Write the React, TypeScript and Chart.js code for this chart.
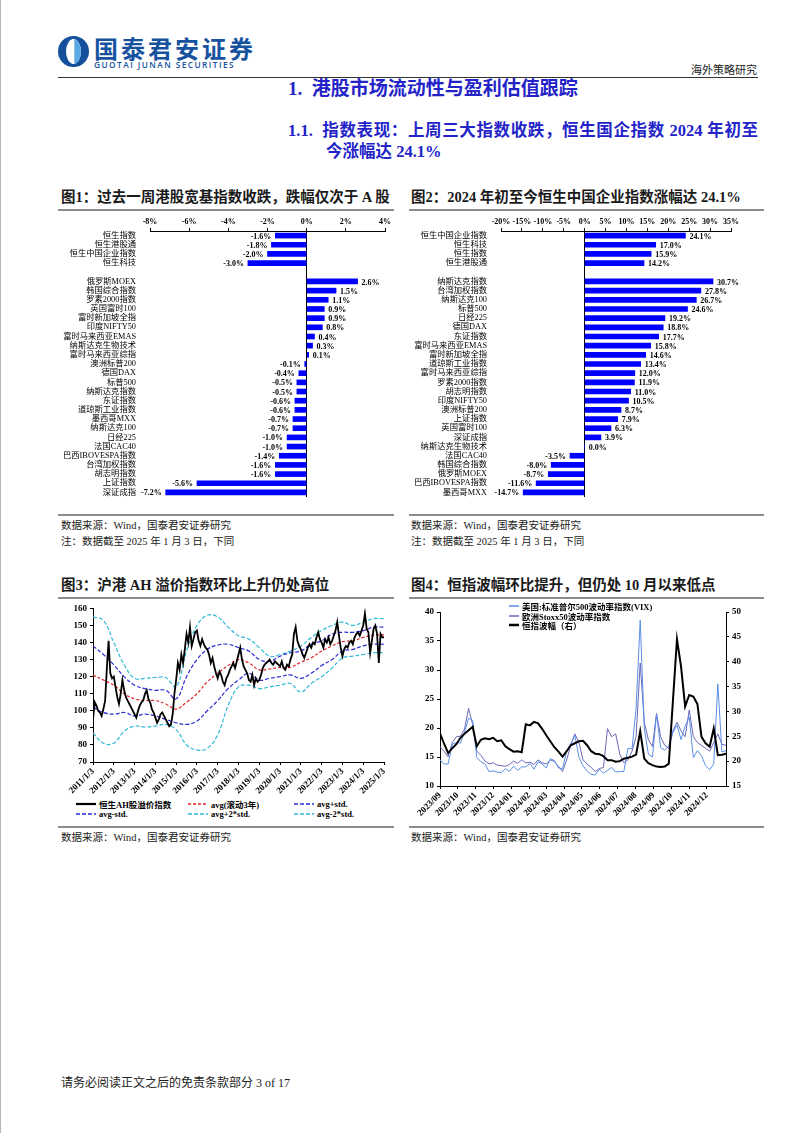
import React, { useEffect, useRef } from 'react';
import { Chart, registerables } from 'chart.js';

Chart.register(...registerables);

const SERIF = '"Liberation Serif", "Noto Sans CJK SC", serif';
const CJK = '"Noto Sans CJK SC", "Liberation Serif", sans-serif';
const HEAD_BLUE = '#2323c8';
const BAR_BLUE = '#0000ff';

// ---------- Figure 1 ----------
const fig1Categories = [
  '恒生指数', '恒生港股通', '恒生中国企业指数', '恒生科技', '',
  '俄罗斯MOEX', '韩国综合指数', '罗素2000指数', '英国富时100', '富时新加坡全指', '印度NIFTY50',
  '富时马来西亚EMAS', '纳斯达克生物技术', '富时马来西亚综指', '澳洲标普200', '德国DAX', '标普500',
  '纳斯达克指数', '东证指数', '道琼斯工业指数', '墨西哥MXX', '纳斯达克100', '日经225', '法国CAC40',
  '巴西IBOVESPA指数', '台湾加权指数', '胡志明指数', '上证指数', '深证成指',
];
const fig1Values = [
  -1.6, -1.8, -2.0, -3.0, null,
  2.6, 1.5, 1.1, 0.9, 0.9, 0.8, 0.4, 0.3, 0.1, -0.1, -0.4, -0.5, -0.5, -0.6, -0.6, -0.7, -0.7,
  -1.0, -1.0, -1.4, -1.6, -1.6, -5.6, -7.2,
];
const fig1TickMin = -8;
const fig1TickMax = 4;
const fig1TickStep = 2;

// ---------- Figure 2 ----------
const fig2Categories = [
  '恒生中国企业指数', '恒生科技', '恒生指数', '恒生港股通', '',
  '纳斯达克指数', '台湾加权指数', '纳斯达克100', '标普500', '日经225', '德国DAX', '东证指数',
  '富时马来西亚EMAS', '富时新加坡全指', '道琼斯工业指数', '富时马来西亚综指', '罗素2000指数',
  '胡志明指数', '印度NIFTY50', '澳洲标普200', '上证指数', '英国富时100', '深证成指',
  '纳斯达克生物技术', '法国CAC40', '韩国综合指数', '俄罗斯MOEX', '巴西IBOVESPA指数', '墨西哥MXX',
];
const fig2Values = [
  24.1, 17.0, 15.9, 14.2, null,
  30.7, 27.8, 26.7, 24.6, 19.2, 18.8, 17.7, 15.8, 14.6, 13.4, 12.0, 11.9, 11.0, 10.5, 8.7, 7.9,
  6.3, 3.9, 0.0, -3.5, -8.0, -8.7, -11.6, -14.7,
];
const fig2TickMin = -20;
const fig2TickMax = 35;
const fig2TickStep = 5;

// ---------- Figure 3 (monthly from 2011/01, bands semi-annual from 2011.0) ----------
const ahStartYear = 2011;
const ahEndYear = 2025;
const ahIndexMonthly = [
  95, 105, 103, 100, 99, 97, 101, 106, 125, 141, 122, 119,
  120, 114, 108, 104, 110, 118, 112, 108, 106, 104, 102, 100,
  98, 96, 100, 103, 105, 106, 110, 112, 107, 105, 101, 99,
  96, 93, 95, 98, 99, 97, 95, 93, 91, 92, 98, 110,
  118, 128, 124, 133, 128, 136, 145, 140, 149, 138, 142, 146,
  147, 141, 138, 142, 139, 137, 136, 133, 128, 131, 126, 122,
  119, 123, 121, 117, 115, 119, 121, 124, 126, 128, 125, 129,
  133, 137, 130, 126, 124, 122, 118, 117, 121, 115, 119, 117,
  118, 121, 125, 127, 128, 129, 130, 128, 127, 129, 128, 127,
  126, 129, 125, 124, 127, 126, 130, 133, 145, 149, 141, 138,
  136, 133, 131, 134, 137, 139, 137, 140, 139, 143, 146, 142,
  140, 137, 142, 140, 143, 139, 141, 144, 147, 152, 144, 137,
  132, 136, 138, 137, 140, 141, 139, 143, 145, 146, 144, 147,
  150, 157, 148, 146, 134, 141, 148, 150, 145, 128, 145, 143,
  143,
];
const ahAvgHalfYear = [121, 118, 115, 110, 107, 106, 106, 104, 101, 105, 110, 117, 122, 126.5, 130, 128, 124, 124.5, 125.5, 125.5, 128.5, 131, 135, 138, 140.5, 141, 143, 144.3, 144.5];
const ahPlusStdHalfYear = [138, 133, 127, 120, 115, 113, 112, 112, 107, 120, 130, 136, 138.5, 139, 137, 135, 130, 129, 132, 134, 135, 139, 141, 145, 146, 146, 147, 149, 149];
const ahMinusStdHalfYear = [102, 99, 98, 99, 97, 98, 97, 95, 93, 92, 94, 100, 106, 113, 118, 122, 118, 119, 120, 121, 119, 122, 126.5, 130, 135, 136, 138, 139, 139];
const ahPlus2StdHalfYear = [155, 153, 140, 127, 119, 119, 119.5, 119.5, 114, 135, 150, 156, 155, 149, 144, 142, 137, 132, 133, 135, 138, 143, 147, 150, 152, 150, 152, 154, 154];
const ahMinus2StdHalfYear = [87, 81, 81, 88, 91, 90.5, 91, 92, 89, 80, 77, 78, 86, 103, 114, 115, 113, 114, 115, 116, 111, 116, 120, 125, 131, 132, 133, 134, 134];

// ---------- Figure 4 (weekly from 2023-09-01) ----------
const volStart = { y: 2023, m: 9, d: 1 };
const volMonthLabels = ['2023/09', '2023/10', '2023/11', '2023/12', '2024/01', '2024/02', '2024/03', '2024/04', '2024/05', '2024/06', '2024/07', '2024/08', '2024/09', '2024/10', '2024/11', '2024/12'];
const vixWeekly = [14.5, 13.8, 13.8, 17.2, 17.5, 17.4, 19.3, 21.7, 21.3, 14.9, 14.2, 13.8, 12.5, 12.6, 12.4, 12.3, 13.0, 12.5, 13.4, 12.7, 13.3, 13.3, 13.9, 12.9, 14.2, 13.8, 13.1, 14.7, 14.4, 13.1, 13.0, 16.0, 17.3, 18.7, 15.0, 13.5, 12.6, 12.0, 11.9, 12.9, 12.2, 12.7, 13.2, 12.4, 12.5, 12.5, 16.5, 16.4, 23.4, 38.6, 20.0, 15.5, 15.0, 22.4, 16.6, 16.2, 16.9, 19.2, 20.5, 18.0, 20.3, 21.9, 14.9, 16.1, 15.2, 13.5, 12.8, 13.8, 27.6, 15.9, 16.1];
const v2xWeekly = [16.8, 16.0, 15.0, 17.5, 18.5, 18.6, 19.8, 23.4, 20.6, 16.0, 15.3, 14.3, 13.8, 14.0, 13.6, 13.5, 13.4, 13.7, 14.3, 13.9, 14.5, 14.0, 14.1, 13.7, 14.5, 14.0, 13.8, 14.5, 14.2, 13.4, 12.5, 14.5, 17.0, 19.0, 17.5, 14.5, 13.8, 13.2, 12.5, 13.0, 13.2, 19.9, 18.5, 19.0, 15.5, 14.0, 14.5, 16.0, 18.5, 31.2, 21.0, 18.0, 16.8, 22.5, 18.5, 17.0, 16.5, 19.5, 21.0, 19.5, 18.5, 23.1, 18.5, 17.5, 17.0, 16.5, 16.0, 17.5, 19.0, 17.2, 17.0];
const hsiVolWeekly = [25.6, 23.5, 21.6, 22.6, 23.4, 24.7, 25.5, 26.2, 26.9, 23.0, 24.3, 24.6, 24.4, 24.7, 24.0, 24.2, 23.0, 22.4, 21.9, 22.0, 21.8, 27.4, 27.2, 27.9, 27.6, 26.5, 25.2, 24.0, 22.8, 21.9, 20.9, 22.0, 23.2, 23.6, 24.0, 24.1, 23.2, 22.0, 21.5, 21.4, 21.0, 20.2, 20.2, 19.9, 20.0, 20.5, 20.7, 20.9, 21.3, 26.0, 20.5, 19.6, 19.2, 18.9, 18.8, 18.9, 19.5, 32.0, 44.5, 39.0, 31.0, 33.3, 33.0, 31.5, 24.9, 23.6, 22.9, 26.6, 21.2, 21.3, 21.5];
const volLeftTicks = [10, 40, 5];
const volRightTicks = [15, 50, 5];

// ---------- helpers ----------
const DAY = 86400000;
const volStartMs = Date.UTC(volStart.y, volStart.m - 1, volStart.d);
const volMonthStarts = volMonthLabels.map((l) => {
  const [y, m] = l.split('/').map(Number);
  return (Date.UTC(y, m - 1, 1) - volStartMs) / DAY;
});
const volEndDay = (Date.UTC(2025, 0, 3) - volStartMs) / DAY;
const weekly = (arr: number[]) => arr.map((v, i) => ({ x: i * 7, y: v }));
const monthly = (arr: number[]) => arr.map((v, i) => ({ x: ahStartYear + i / 12, y: v }));
const halfYear = (arr: number[]) => arr.map((v, i) => ({ x: ahStartYear + i / 2, y: v }));

const barValueLabels = {
  id: 'barValueLabels',
  afterDatasetsDraw(chart: any) {
    const ctx = chart.ctx;
    const meta = chart.getDatasetMeta(0);
    const data = chart.data.datasets[0].data;
    ctx.save();
    ctx.font = `bold 8px ${SERIF}`;
    ctx.fillStyle = '#000';
    ctx.textBaseline = 'middle';
    meta.data.forEach((el: any, i: number) => {
      const v = data[i];
      if (v === null || v === undefined) return;
      const txt = v.toFixed(1) + '%';
      if (v >= 0) {
        ctx.textAlign = 'left';
        ctx.fillText(txt, el.x + 4, el.y + 1);
      } else {
        ctx.textAlign = 'right';
        ctx.fillText(txt, el.x - 4, el.y + 1);
      }
    });
    ctx.restore();
  },
};

function useChart(makeConfig: () => any) {
  const ref = useRef<HTMLCanvasElement>(null);
  useEffect(() => {
    const chart = new Chart(ref.current as HTMLCanvasElement, makeConfig());
    return () => chart.destroy();
  }, []);
  return ref;
}

function barConfig(labels: string[], values: (number | null)[], min: number, max: number, step: number, yWidth: number, padRight: number) {
  return {
    type: 'bar',
    data: {
      labels,
      datasets: [{ data: values, backgroundColor: BAR_BLUE, barThickness: 5 }],
    },
    plugins: [barValueLabels],
    options: {
      indexAxis: 'y',
      responsive: false,
      animation: false,
      layout: { padding: { top: 0, right: padRight, bottom: 3, left: 0 } },
      plugins: { legend: { display: false }, tooltip: { enabled: false } },
      scales: {
        x: {
          position: 'top',
          min,
          max,
          ticks: { stepSize: step, callback: (v: any) => v + '%', font: { family: SERIF, size: 8, weight: 'bold' }, color: '#000', padding: 1, autoSkip: false, maxRotation: 0 },
          grid: {
            color: (c: any) => (c.tick && c.tick.value === 0 ? '#000' : 'rgba(0,0,0,0)'),
            tickColor: '#000',
            tickLength: 3,
            lineWidth: 1,
          },
          border: { color: '#000', width: 1 },
          afterFit: (s: any) => { s.height = 19; },
        },
        y: {
          ticks: { font: { family: SERIF, size: 8.3 }, color: '#000', padding: 6, autoSkip: false },
          grid: { display: false },
          border: { display: false },
          afterFit: (s: any) => { s.width = yWidth; },
        },
      },
    },
  };
}

function Fig1() {
  const ref = useChart(() => barConfig(fig1Categories, fig1Values, fig1TickMin, fig1TickMax, fig1TickStep, 92, 11));
  return <canvas ref={ref} width={338} height={296} style={{ position: 'absolute', left: 57, top: 212 }} />;
}

function Fig2() {
  const ref = useChart(() => barConfig(fig2Categories, fig2Values, fig2TickMin, fig2TickMax, fig2TickStep, 95, 35));
  return <canvas ref={ref} width={360} height={296} style={{ position: 'absolute', left: 405, top: 212 }} />;
}

const AH_RED = '#e02424';
const AH_BLUE = '#2a2ad6';
const AH_CYAN = '#2fbad8';

function Fig3() {
  const ref = useChart(() => {
    const band = (data: any[], color: string, dash: number[]) => ({
      data, borderColor: color, borderWidth: 1.2, borderDash: dash, pointRadius: 0, tension: 0.4, fill: false,
    });
    const tickFont = { family: SERIF, size: 9, weight: 'bold' };
    return {
      type: 'line',
      data: {
        datasets: [
          { data: monthly(ahIndexMonthly), borderColor: '#000', borderWidth: 1.8, pointRadius: 0, tension: 0, fill: false },
          band(halfYear(ahAvgHalfYear), AH_RED, [3, 2]),
          band(halfYear(ahPlusStdHalfYear), AH_BLUE, [4, 2]),
          band(halfYear(ahMinusStdHalfYear), AH_BLUE, [4, 2]),
          band(halfYear(ahPlus2StdHalfYear), AH_CYAN, [4, 2]),
          band(halfYear(ahMinus2StdHalfYear), AH_CYAN, [4, 2]),
        ],
      },
      options: {
        responsive: false,
        animation: false,
        layout: { padding: { top: 7, right: 12, bottom: 0, left: 0 } },
        plugins: { legend: { display: false }, tooltip: { enabled: false } },
        scales: {
          x: {
            type: 'linear', min: ahStartYear, max: ahEndYear,
            ticks: { stepSize: 1, autoSkip: false, callback: (v: any) => `${v}/1/3`, maxRotation: 45, minRotation: 45, font: tickFont, color: '#000', padding: 1 },
            grid: { drawOnChartArea: false, tickLength: 3, color: '#000' },
            border: { color: '#000' },
            afterFit: (s: any) => { s.height = 34; },
          },
          y: {
            min: 70, max: 160,
            ticks: { stepSize: 10, font: tickFont, color: '#000', padding: 3 },
            grid: { drawOnChartArea: false, tickLength: 3, color: '#000' },
            border: { color: '#000' },
            afterFit: (s: any) => { s.width = 35; },
          },
        },
      },
    };
  });
  return <canvas ref={ref} width={338} height={196} style={{ position: 'absolute', left: 57, top: 600 }} />;
}

const VIX_COLOR = '#5a8fe6';
const V2X_COLOR = '#6b67b8';

function Fig4() {
  const ref = useChart(() => {
    const tickFont = { family: SERIF, size: 9, weight: 'bold' };
    return {
      type: 'line',
      data: {
        datasets: [
          { data: weekly(hsiVolWeekly), yAxisID: 'y1', borderColor: '#000', borderWidth: 2, pointRadius: 0, tension: 0 },
          { data: weekly(vixWeekly), yAxisID: 'y', borderColor: VIX_COLOR, borderWidth: 1, pointRadius: 0, tension: 0 },
          { data: weekly(v2xWeekly), yAxisID: 'y', borderColor: V2X_COLOR, borderWidth: 1, pointRadius: 0, tension: 0 },
        ],
      },
      options: {
        responsive: false,
        animation: false,
        layout: { padding: { top: 12, right: 0, bottom: 0, left: 0 } },
        plugins: { legend: { display: false }, tooltip: { enabled: false } },
        scales: {
          x: {
            type: 'linear', min: 0, max: volEndDay,
            afterBuildTicks: (s: any) => { s.ticks = volMonthStarts.map((v) => ({ value: v })); },
            ticks: { autoSkip: false, callback: (_v: any, i: number) => volMonthLabels[i], maxRotation: 45, minRotation: 45, font: tickFont, color: '#000', padding: 1 },
            grid: { drawOnChartArea: false, tickLength: 3, color: '#000' },
            border: { color: '#000' },
            afterFit: (s: any) => { s.height = 34; },
          },
          y: {
            position: 'left', min: volLeftTicks[0], max: volLeftTicks[1],
            ticks: { stepSize: volLeftTicks[2], font: tickFont, color: '#000', padding: 3 },
            grid: { drawOnChartArea: false, tickLength: 3, color: '#000' },
            border: { color: '#000' },
            afterFit: (s: any) => { s.width = 29; },
          },
          y1: {
            position: 'right', min: volRightTicks[0], max: volRightTicks[1],
            ticks: { stepSize: volRightTicks[2], font: tickFont, color: '#000', padding: 3 },
            grid: { drawOnChartArea: false, tickLength: 3, color: '#000' },
            border: { color: '#000' },
            afterFit: (s: any) => { s.width = 35; },
          },
        },
      },
    };
  });
  return <canvas ref={ref} width={350} height={220} style={{ position: 'absolute', left: 410, top: 600 }} />;
}

// ---------- page helpers ----------
function T({ x, y, size, children, style }: any) {
  return (
    <div style={{ position: 'absolute', left: x, top: y, fontSize: size, lineHeight: 1.2, whiteSpace: 'nowrap', ...style }}>
      {children}
    </div>
  );
}

function HLine({ x, y, w, h = 1.5, color = '#8c8c8c' }: any) {
  return <div style={{ position: 'absolute', left: x, top: y, width: w, height: h, background: color }} />;
}

function LegendItem({ x, y, color, dash, width, text, lineLen = 20 }: any) {
  return (
    <div style={{ position: 'absolute', left: x, top: y, height: 10, display: 'flex', alignItems: 'center', whiteSpace: 'nowrap', fontFamily: SERIF, fontWeight: 'bold', fontSize: 8.5, color: '#000' }}>
      <svg width={lineLen} height={6} style={{ marginRight: 3 }}>
        <line x1={0} y1={3} x2={lineLen} y2={3} stroke={color} strokeWidth={width} strokeDasharray={dash} />
      </svg>
      <span>{text}</span>
    </div>
  );
}

const ahLegend = [
  { col: 0, row: 0, text: '恒生AH股溢价指数', color: '#000', dash: '', width: 2.2 },
  { col: 1, row: 0, text: 'avg(滚动3年)', color: AH_RED, dash: '3 2', width: 1.4 },
  { col: 2, row: 0, text: 'avg+std.', color: AH_BLUE, dash: '4 2', width: 1.4 },
  { col: 0, row: 1, text: 'avg-std.', color: AH_BLUE, dash: '4 2', width: 1.4 },
  { col: 1, row: 1, text: 'avg+2*std.', color: AH_CYAN, dash: '4 2', width: 1.4 },
  { col: 2, row: 1, text: 'avg-2*std.', color: AH_CYAN, dash: '4 2', width: 1.4 },
];
const ahLegendCols = [75, 187, 293];

const volLegend = [
  { text: '美国:标准普尔500波动率指数(VIX)', color: VIX_COLOR, width: 1.5 },
  { text: '欧洲Stoxx50波动率指数', color: V2X_COLOR, width: 1.5 },
  { text: '恒指波幅（右）', color: '#000', width: 2.5 },
];

function Logo() {
  return (
    <svg width={31} height={31} viewBox="0 0 31 31" style={{ position: 'absolute', left: 57, top: 36 }}>
      <circle cx={15.5} cy={15.5} r={15.5} fill="#14509c" />
      <ellipse cx={15.5} cy={15.5} rx={7.5} ry={12.5} fill="#ffffff" />
      <path d="M15.5 3 A7.5 12.5 0 0 1 15.5 28 Z" fill="#5aa9e4" />
      <rect x={14.7} y={3} width={1.6} height={25} fill="#ffffff" />
    </svg>
  );
}

export default function App() {
  const src = '数据来源：Wind，国泰君安证券研究';
  const note = '注：数据截至 2025 年 1 月 3 日，下同';
  return (
    <div style={{ position: 'absolute', left: 0, top: 0, width: 802, height: 1133, background: '#fff', overflow: 'hidden', fontFamily: SERIF, color: '#111', borderLeft: '1px solid #b5b5b5', boxSizing: 'border-box' }}>
      <Logo />
      <T x={93} y={34} size={24} style={{ fontFamily: CJK, fontWeight: 700, color: '#17529f', letterSpacing: 3 }}>国泰君安证券</T>
      <T x={93} y={60} size={8.3} style={{ fontFamily: '"Open Sans", sans-serif', fontWeight: 600, color: '#17529f', letterSpacing: 1.45 }}>GUOTAI JUNAN SECURITIES</T>
      <div style={{ position: 'absolute', right: 45, top: 63, fontSize: 11, lineHeight: 1.2, color: '#222', fontFamily: CJK }}>海外策略研究</div>
      <HLine x={57} y={77} w={700} h={1.2} color="#333" />

      <T x={287} y={78} size={19} style={{ fontWeight: 700, color: HEAD_BLUE, fontFamily: SERIF }}>1.&nbsp;&nbsp;港股市场流动性与盈利估值跟踪</T>
      <div style={{ position: 'absolute', left: 287, top: 121, width: 470, fontSize: 16.5, lineHeight: 1.2, fontWeight: 700, color: HEAD_BLUE, textAlign: 'justify', textAlignLast: 'justify', whiteSpace: 'nowrap' as any }}>
        1.1.&nbsp;&nbsp;指数表现：上周三大指数收跌，恒生国企指数 2024 年初至
      </div>
      <T x={325} y={142} size={16.5} style={{ fontWeight: 700, color: HEAD_BLUE }}>今涨幅达 24.1%</T>

      <T x={60} y={189} size={14.5} style={{ fontWeight: 700, fontFamily: SERIF, color: '#1a1a1a' }}>图1：过去一周港股宽基指数收跌，跌幅仅次于 A 股</T>
      <T x={410} y={189} size={14.5} style={{ fontWeight: 700, fontFamily: SERIF, color: '#1a1a1a' }}>图2：2024 年初至今恒生中国企业指数涨幅达 24.1%</T>
      <HLine x={57} y={209} w={336} />
      <HLine x={408} y={209} w={355} />

      <Fig1 />
      <Fig2 />

      <HLine x={57} y={514} w={336} />
      <HLine x={408} y={514} w={355} />
      <T x={60} y={520} size={10.5} style={{ color: '#222' }}>{src}</T>
      <T x={60} y={536} size={10.5} style={{ color: '#222' }}>{note}</T>
      <T x={410} y={520} size={10.5} style={{ color: '#222' }}>{src}</T>
      <T x={410} y={536} size={10.5} style={{ color: '#222' }}>{note}</T>

      <T x={60} y={577} size={14.5} style={{ fontWeight: 700, color: '#1a1a1a' }}>图3：沪港 AH 溢价指数环比上升仍处高位</T>
      <T x={410} y={577} size={14.5} style={{ fontWeight: 700, color: '#1a1a1a' }}>图4：恒指波幅环比提升，但仍处 10 月以来低点</T>
      <HLine x={57} y={597} w={336} />
      <HLine x={408} y={597} w={355} />

      <Fig3 />
      {ahLegend.map((it, i) => (
        <LegendItem key={i} x={ahLegendCols[it.col]} y={799 + it.row * 9.5} color={it.color} dash={it.dash} width={it.width} text={it.text} />
      ))}

      <Fig4 />
      {volLegend.map((it, i) => (
        <LegendItem key={i} x={508} y={601 + i * 9.5} color={it.color} dash="" width={it.width} text={it.text} lineLen={10} />
      ))}

      <HLine x={57} y={826} w={336} />
      <HLine x={408} y={826} w={355} />
      <T x={60} y={832} size={10.5} style={{ color: '#222' }}>{src}</T>
      <T x={410} y={832} size={10.5} style={{ color: '#222' }}>{src}</T>

      <T x={60} y={1076} size={12} style={{ color: '#222' }}>请务必阅读正文之后的免责条款部分 3 of 17</T>
    </div>
  );
}
